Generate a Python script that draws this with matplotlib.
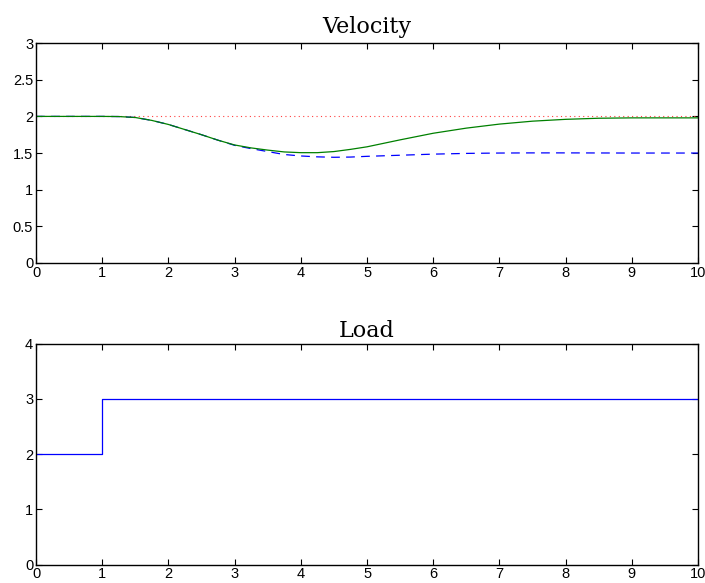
import matplotlib
matplotlib.use("Agg")
import matplotlib.pyplot as plt

# Velocity data
t_vel = [0, 0.5, 1.0, 1.25, 1.5, 1.75, 2.0, 2.25, 2.5, 2.75, 3.0, 3.25, 3.5, 3.75,
         4.0, 4.25, 4.5, 4.75, 5.0, 5.5, 6.0, 6.5, 7.0, 7.5, 8.0, 8.5, 9.0, 9.5, 10.0]
v_ref = [2.0] * len(t_vel)
v_green = [2.0, 2.0, 2.0, 1.998, 1.985, 1.945, 1.89, 1.82, 1.75, 1.675, 1.61, 1.57, 1.54, 1.515,
           1.505, 1.505, 1.52, 1.55, 1.585, 1.68, 1.77, 1.84, 1.895, 1.935, 1.96, 1.975, 1.98, 1.98, 1.98]
v_blue = [2.0, 2.0, 2.0, 1.998, 1.985, 1.945, 1.89, 1.82, 1.75, 1.675, 1.605, 1.56, 1.52, 1.48,
          1.46, 1.448, 1.442, 1.445, 1.455, 1.47, 1.485, 1.495, 1.50, 1.502, 1.502, 1.501, 1.50, 1.50, 1.50]

# Load data
t_load = [0, 1, 1, 10]
load = [2, 2, 3, 3]

vel_yticks = [0, 0.5, 1, 1.5, 2, 2.5, 3]
load_yticks = [0, 1, 2, 3, 4]
xticks = list(range(0, 11))

plt.rcParams['font.family'] = ['Liberation Sans', 'DejaVu Sans']

fig = plt.figure(figsize=(7.05, 5.83), dpi=100)
ax1 = fig.add_axes([0.0511, 0.549, 0.939, 0.377])
ax2 = fig.add_axes([0.0511, 0.0314, 0.939, 0.3791])

ax1.plot(t_vel, v_ref, color='#ff4040', linestyle=(0, (1, 3)), linewidth=0.8)
ax1.plot(t_vel, v_blue, color='#0000ff', linestyle=(0, (7, 5)), linewidth=0.9)
ax1.plot(t_vel, v_green, color='#008000', linestyle='-', linewidth=0.9)
ax1.set_xlim(0, 10)
ax1.set_ylim(0, 3)
ax1.set_yticks(vel_yticks)
ax1.set_yticklabels(['0', '0.5', '1', '1.5', '2', '2.5', '3'])
ax1.set_title('Velocity', family='DejaVu Serif', fontsize=16, pad=7.5)

ax2.plot(t_load, load, color='#0000ff', linewidth=0.9)
ax2.set_xlim(0, 10)
ax2.set_ylim(0, 4)
ax2.set_yticks(load_yticks)
ax2.set_title('Load', family='DejaVu Serif', fontsize=16, pad=5)

for ax in (ax1, ax2):
    ax.set_xticks(xticks)
    ax.tick_params(direction='in', top=True, right=True, length=4, width=0.8,
                   labelsize=10.5, pad=2)
    for s in ax.spines.values():
        s.set_linewidth(1.0)

fig.savefig('out.png', dpi=100)
